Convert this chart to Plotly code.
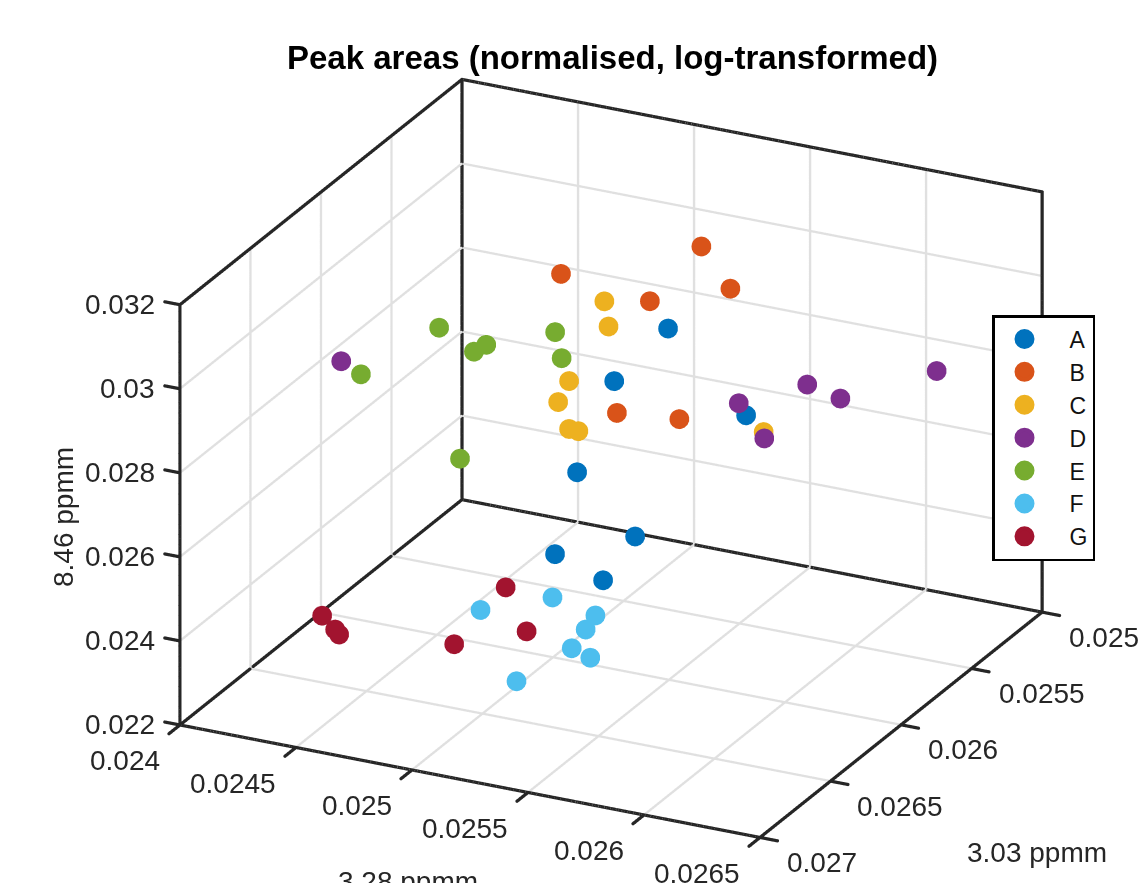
import numpy as np
import plotly.graph_objects as go

names = ["A", "B", "C", "D", "E", "F", "G"]
colors = ["#0072BD", "#D95319", "#EDB120", "#7E2F8E", "#77AC30", "#4DBEEE", "#A2142F"]

a_x = [0.025495, 0.025263, 0.025345, 0.025103, 0.025353, 0.025008, 0.025215]
a_y = [0.0260, 0.0260, 0.0252, 0.0260, 0.0260, 0.0260, 0.0260]
a_z = [0.03036, 0.02886, 0.02599, 0.02652, 0.02526, 0.02447, 0.02407]

b_x = [0.025517, 0.024912, 0.025642, 0.025295, 0.025153, 0.025422]
b_y = [0.0258] * 6
b_z = [0.0318, 0.0305, 0.03093, 0.03026, 0.02745, 0.02759]

c_x = [0.025342, 0.02536, 0.02519, 0.025143, 0.02519, 0.02523, 0.02536]
c_y = [0.0262, 0.0262, 0.0262, 0.0262, 0.0262, 0.0262, 0.0251]
c_z = [0.03138, 0.0308, 0.02932, 0.02877, 0.02818, 0.02817, 0.02534]

d_x = [0.026288, 0.02573, 0.025873, 0.025435, 0.025545, 0.024208]
d_y = [0.0254, 0.0254, 0.0254, 0.0254, 0.0254, 0.0262]
d_z = [0.02859, 0.02767, 0.02749, 0.02691, 0.02619, 0.02874]

e_x = [0.02463, 0.024833, 0.02478, 0.02513, 0.025158, 0.024293, 0.02472]
e_y = [0.0262] * 7
e_z = [0.02999, 0.0298, 0.02958, 0.03042, 0.02983, 0.02852, 0.02697]

f_x = [0.02493, 0.02524, 0.025425, 0.025383, 0.025323, 0.025403, 0.025085]
f_y = [0.0264] * 7
f_z = [0.02413, 0.02476, 0.02453, 0.02415, 0.02364, 0.0235, 0.0226]

g_x = [0.02516, 0.02525, 0.024938, 0.024369, 0.024425, 0.024442]
g_y = [0.0266] * 6
g_z = [0.02545, 0.0245, 0.02386, 0.02393, 0.02366, 0.02356]

xs = [a_x, b_x, c_x, d_x, e_x, f_x, g_x]
ys = [a_y, b_y, c_y, d_y, e_y, f_y, g_y]
zs = [a_z, b_z, c_z, d_z, e_z, f_z, g_z]

x_ticks = [0.024, 0.0245, 0.025, 0.0255, 0.026, 0.0265]
x_labels = ["0.024", "0.0245", "0.025", "0.0255", "0.026", "0.0265"]
y_ticks = [0.025, 0.0255, 0.026, 0.0265, 0.027]
y_labels = ["0.025", "0.0255", "0.026", "0.0265", "0.027"]
z_ticks = [0.022, 0.024, 0.026, 0.028, 0.03, 0.032]
z_labels = ["0.022", "0.024", "0.026", "0.028", "0.03", "0.032"]

title_text = "Peak areas (normalised, log-transformed)"
x_title = "3.28 ppmm"
y_title = "3.03 ppmm"
z_title = "8.46 ppmm"

x0, x1 = x_ticks[0], x_ticks[-1]
y0, y1 = y_ticks[0], y_ticks[-1]
z0, z1 = z_ticks[0], z_ticks[-1]
dx, dy, dz = x1 - x0, y1 - y0, z1 - z0

FRAME = "#262626"
GRID = "#E0E0E0"
FONT = "Liberation Sans"
TICK_SIZE = 28
MARKER_SIZE = 11.5


def dense(segments, n):
    """Sample straight segments densely so that they can be drawn thicker than 1 px."""
    px, py, pz = [], [], []
    for a, b in segments:
        t = np.linspace(0, 1, n)
        px += list(a[0] + (b[0] - a[0]) * t)
        py += list(a[1] + (b[1] - a[1]) * t)
        pz += list(a[2] + (b[2] - a[2]) * t)
    return px, py, pz


grid_segments = []
for v in x_ticks:
    grid_segments += [((v, y0, z0), (v, y1, z0)), ((v, y0, z0), (v, y0, z1))]
for v in y_ticks:
    grid_segments += [((x0, v, z0), (x1, v, z0)), ((x0, v, z0), (x0, v, z1))]
for v in z_ticks:
    grid_segments += [((x0, y0, v), (x1, y0, v)), ((x0, y0, v), (x0, y1, v))]

frame_segments = [
    ((x0, y1, z0), (x1, y1, z0)), ((x1, y1, z0), (x1, y0, z0)),
    ((x1, y0, z0), (x0, y0, z0)), ((x0, y0, z0), (x0, y1, z0)),
    ((x0, y1, z0), (x0, y1, z1)), ((x0, y0, z0), (x0, y0, z1)),
    ((x1, y0, z0), (x1, y0, z1)),
    ((x0, y1, z1), (x0, y0, z1)), ((x0, y0, z1), (x1, y0, z1)),
]
tick_segments = []
for v in x_ticks:
    tick_segments.append(((v, y1, z0), (v, y1 + 0.039 * dy, z0)))
for v in y_ticks:
    tick_segments.append(((x1, v, z0), (x1 + 0.03 * dx, v, z0)))
for v in z_ticks:
    tick_segments.append(((x0, y1, v), (x0 - 0.026 * dx, y1, v)))

fig = go.Figure()

gx, gy, gz = dense(grid_segments, 500)
fig.add_trace(go.Scatter3d(x=gx, y=gy, z=gz, mode="markers", showlegend=False, hoverinfo="skip",
                           marker=dict(size=1.4, color=GRID, line=dict(width=0))))
fx, fy, fz = dense(frame_segments, 800)
fig.add_trace(go.Scatter3d(x=fx, y=fy, z=fz, mode="markers", showlegend=False, hoverinfo="skip",
                           marker=dict(size=1.9, color=FRAME, line=dict(width=0))))
tx, ty, tz = dense(tick_segments, 30)
fig.add_trace(go.Scatter3d(x=tx, y=ty, z=tz, mode="markers", showlegend=False, hoverinfo="skip",
                           marker=dict(size=1.9, color=FRAME, line=dict(width=0))))

for name, color, x, y, z in zip(names, colors, xs, ys, zs):
    fig.add_trace(go.Scatter3d(x=x, y=y, z=z, mode="markers", name=name, legendgroup=name,
                               showlegend=False,
                               marker=dict(size=MARKER_SIZE, color=color, opacity=1, line=dict(width=0))))
# legend keys
for name, color in zip(names, colors):
    fig.add_trace(go.Scatter3d(x=[None], y=[None], z=[None], mode="markers", name=name, legendgroup=name,
                               marker=dict(size=16, color=color, opacity=1, line=dict(width=4, color=color))))


def axis(rng):
    return dict(range=rng, autorange=False, title=dict(text=""), showgrid=False, showbackground=False,
                zeroline=False, showline=False, ticks="", showticklabels=False, showspikes=False)


PAD_X, PAD_Y, PAD_Z = 0.035, 0.045, 0.01
SCALE = 1.518
eye = [0.406, -0.824, 0.395]
dist = 2.0


def tick_notes():
    notes = []
    font = dict(family=FONT, size=TICK_SIZE, color=FRAME)
    for v, t in zip(x_ticks, x_labels):
        notes.append(dict(x=v, y=y1, z=z0, text=t, showarrow=False, xanchor="right", yanchor="middle",
                          xshift=-18, yshift=-36, font=font))
    for v, t in zip(y_ticks, y_labels):
        notes.append(dict(x=x1, y=v, z=z0, text=t, showarrow=False, xanchor="left", yanchor="middle",
                          xshift=25, yshift=-25, font=font))
    for v, t in zip(z_ticks, z_labels):
        notes.append(dict(x=x0, y=y1, z=v, text=t, showarrow=False, xanchor="right", yanchor="middle",
                          xshift=-23, yshift=0, font=font))
    return notes


W, H = 1146, 883
fig.update_layout(
    width=W, height=H, margin=dict(l=0, r=0, t=0, b=0),
    paper_bgcolor="white", font=dict(family=FONT, color=FRAME),
    showlegend=True,
    legend=dict(x=992 / W, y=1 - 315 / H, xanchor="left", yanchor="top", bgcolor="white",
                bordercolor="black", borderwidth=2.5, font=dict(size=23, color="#111111"),
                itemwidth=80, indentation=-15, tracegroupgap=0, itemsizing="trace"),
    scene=dict(
        domain=dict(x=[0.066, 1.0], y=[0.0, 0.965]),
        aspectmode="manual",
        aspectratio=dict(x=SCALE * (1 + 2 * PAD_X), y=SCALE * 0.987 * (1 + 2 * PAD_Y),
                         z=SCALE * 0.7069 * (1 + 2 * PAD_Z)),
        xaxis=axis([x0 - PAD_X * dx, x1 + PAD_X * dx]),
        yaxis=axis([y1 + PAD_Y * dy, y0 - PAD_Y * dy]),
        zaxis=axis([z0 - PAD_Z * dz, z1 + PAD_Z * dz]),
        annotations=tick_notes(),
        camera=dict(eye=dict(x=eye[0] * dist, y=eye[1] * dist, z=eye[2] * dist),
                    up=dict(x=0, y=0, z=1), center=dict(x=0, y=0, z=0.0035),
                    projection=dict(type="orthographic")),
    ),
    annotations=[
        dict(text="<b>" + title_text + "</b>", xref="paper", yref="paper", x=612 / W, y=1 - 57 / H,
             xanchor="center", yanchor="middle", showarrow=False, font=dict(size=33, color="black")),
        dict(text=x_title, xref="paper", yref="paper", x=408 / W, y=1 - 881 / H,
             xanchor="center", yanchor="middle", showarrow=False, font=dict(size=TICK_SIZE, color=FRAME)),
        dict(text=y_title, xref="paper", yref="paper", x=1037 / W, y=1 - 852 / H,
             xanchor="center", yanchor="middle", showarrow=False, font=dict(size=TICK_SIZE, color=FRAME)),
        dict(text=z_title, xref="paper", yref="paper", x=63 / W, y=1 - 517 / H, textangle=-90,
             xanchor="center", yanchor="middle", showarrow=False, font=dict(size=TICK_SIZE, color=FRAME)),
    ],
)

fig.write_html("out.html", post_script="document.body.style.margin='0';",
               config=dict(displayModeBar=False))
